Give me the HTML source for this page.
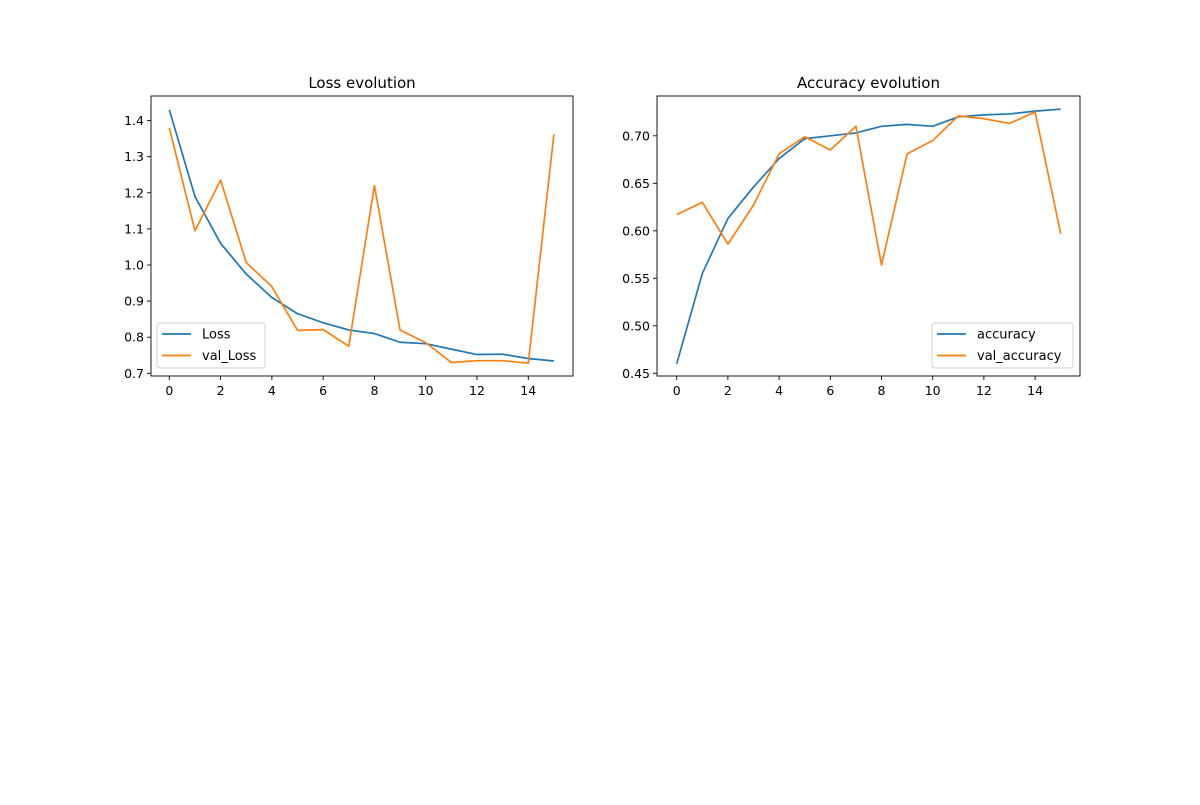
<!DOCTYPE html>
<html><head><meta charset="utf-8"><style>
html,body{margin:0;padding:0;background:#fff;}
svg text{font-family:"DejaVu Sans","Liberation Sans",sans-serif;}
</style></head><body>
<svg id="c" width="1200" height="800" xmlns="http://www.w3.org/2000/svg"></svg>
<script>
const epochs = [0,1,2,3,4,5,6,7,8,9,10,11,12,13,14,15];
const loss = [1.43,1.19,1.06,0.975,0.91,0.865,0.84,0.82,0.81,0.786,0.782,0.767,0.752,0.753,0.741,0.734];
const valLoss = [1.38,1.095,1.235,1.007,0.94,0.819,0.821,0.775,1.22,0.82,0.785,0.73,0.735,0.735,0.728,1.362];
const accuracy = [0.46,0.555,0.613,0.646,0.676,0.697,0.700,0.703,0.710,0.712,0.710,0.720,0.722,0.723,0.726,0.728];
const valAccuracy = [0.617,0.630,0.586,0.627,0.681,0.699,0.685,0.710,0.564,0.681,0.695,0.721,0.718,0.713,0.725,0.597];
const xTicks = [0,2,4,6,8,10,12,14];
const lossTicks = [0.7,0.8,0.9,1.0,1.1,1.2,1.3,1.4];
const accTicks = [0.45,0.50,0.55,0.60,0.65,0.70];

const svg = document.getElementById('c');
const NS = 'http://www.w3.org/2000/svg';
function mk(tag, attrs, parent){
  const e = document.createElementNS(NS, tag);
  for (const k in attrs) e.setAttribute(k, attrs[k]);
  (parent||svg).appendChild(e);
  return e;
}
function panel(cfg){
  const g = mk('g', {});
  
  
  const xs = v => cfg.x0 + (v - 0) * cfg.xu;
  const ys = v => cfg.yRef + (cfg.vRef - v) * cfg.yu;
  const t = mk('text', {x:(cfg.L+cfg.R)/2, y:cfg.T-8, 'text-anchor':'middle', 'font-size':'15', fill:'#000'}, g);
  t.textContent = cfg.title;
  
  
  const colors = ['#1f77b4','#ff7f0e'];
  cfg.series.forEach((s, i) => {
    const p = mk('polyline', {points: s.map((v,j)=>xs(epochs[j])+','+ys(v)).join(' '), fill:'none', stroke:colors[i], 'stroke-width':'1.7', 'stroke-linejoin':'round'}, g);
    
    
  });
  const f = mk('rect', {x:cfg.L, y:cfg.T, width:cfg.R-cfg.L, height:cfg.B-cfg.T, fill:'none', stroke:'#000', 'stroke-width':'0.9'}, g);
  
  
  xTicks.forEach(v => {
    const x = xs(v);
    mk('line', {x1:x, x2:x, y1:cfg.B, y2:cfg.B+4, stroke:'#000', 'stroke-width':'0.9'}, g);
    const tx = mk('text', {x:x, y:cfg.B+19, 'text-anchor':'middle', 'font-size':'12.5'}, g);
    tx.textContent = v;
    
    
  });
  cfg.yTicks.forEach(v => {
    const y = ys(v);
    mk('line', {x1:cfg.L-4, x2:cfg.L, y1:y, y2:y, stroke:'#000', 'stroke-width':'0.9'}, g);
    const ty = mk('text', {x:cfg.L-7, y:y+4.5, 'text-anchor':'end', 'font-size':'12.5'}, g);
    ty.textContent = v.toFixed(cfg.dec);
    
    
  });
  const lg = mk('g', {}, g);
  
  
  mk('rect', {x:cfg.lx, y:323, width:cfg.lw, height:45, rx:3, fill:'#fff', 'fill-opacity':'0.8', stroke:'#ccc', 'stroke-width':'0.9'}, lg);
  cfg.labels.forEach((lab, i) => {
    const y = 334 + i*21.5;
    mk('line', {x1:cfg.lx+5, x2:cfg.lx+34, y1:y, y2:y, stroke:colors[i], 'stroke-width':'1.7'}, lg);
    const lt = mk('text', {x:cfg.lx+45, y:y+4.5, 'font-size':'13'}, lg);
    lt.textContent = lab;
    
    
  });
}
panel({name:'loss-chart', title:'Loss evolution', L:151, R:573, T:96, B:376, x0:169.3, xu:25.64,
  yRef:373.3, vRef:0.7, yu:361, yTicks:lossTicks, dec:1, series:[loss,valLoss], labels:['Loss','val_Loss'], lx:157, lw:108});
panel({name:'accuracy-chart', title:'Accuracy evolution', L:657, R:1080, T:96, B:376, x0:676.7, xu:25.6,
  yRef:373.3, vRef:0.45, yu:950, yTicks:accTicks, dec:2, series:[accuracy,valAccuracy], labels:['accuracy','val_accuracy'], lx:932, lw:141});
</script>
</body></html>
